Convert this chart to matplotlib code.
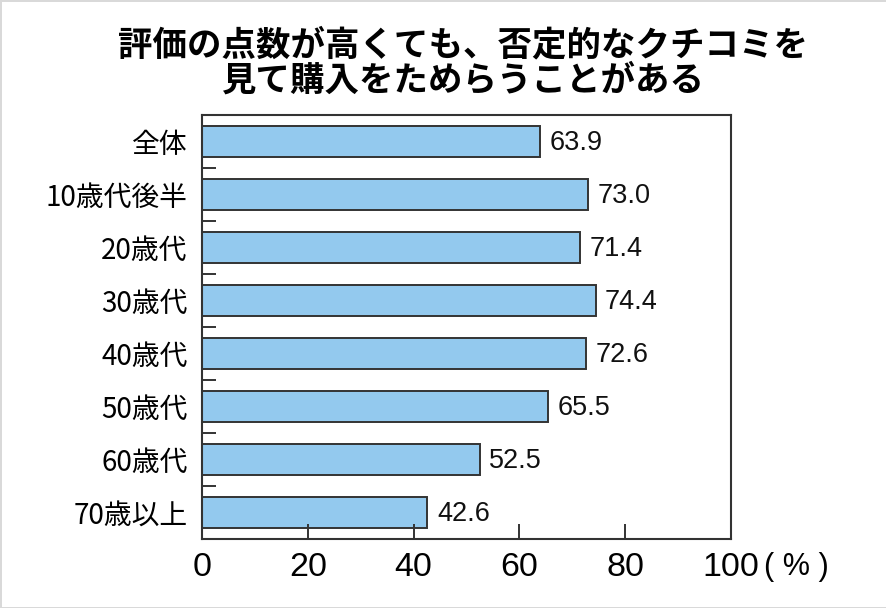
import matplotlib
matplotlib.use("Agg")
import matplotlib.pyplot as plt
import numpy as np

# データ
categories = ["全体", "10歳代後半", "20歳代", "30歳代", "40歳代", "50歳代", "60歳代", "70歳以上"]
values = [63.9, 73.0, 71.4, 74.4, 72.6, 65.5, 52.5, 42.6]
xticks = [0, 20, 40, 60, 80, 100]
title_lines = ["評価の点数が高くても、否定的なクチコミを", "見て購入をためらうことがある"]

jp = ["Noto Sans CJK JP", "DejaVu Sans"]
narrow = ["Liberation Sans Narrow", "Liberation Sans", "DejaVu Sans"]
plt.rcParams["font.family"] = jp

fig = plt.figure(figsize=(8.87, 6.08), dpi=100)
fig.patch.set_edgecolor("#d9d9d9")
fig.patch.set_linewidth(2)
ax = fig.add_axes([202 / 887, 1 - 539 / 608, 529 / 887, 424 / 608])

y = np.arange(len(categories))
ax.barh(y, values, height=0.6, color="#93c9ee", edgecolor="#333333", linewidth=1.4)

for yi, v in zip(y, values):
    ax.text(v + 1.8, yi + 0.02, f"{v:.1f}", va="center", ha="left",
            fontsize=19.5, family=narrow, color="#111111")

ax.set_xlim(0, 100)
ax.set_ylim(len(categories) - 0.5, -0.5)

ax.set_yticks(y)
ax.set_yticklabels(categories, fontsize=20)
ax.set_yticks(np.arange(-0.5, len(categories)), minor=True)
ax.tick_params(axis="y", which="major", length=0, pad=10.5)
ax.tick_params(axis="y", which="minor", direction="in", length=10, width=1.4, color="#333333")

ax.set_xticks(xticks)
ax.set_xticklabels([str(t) for t in xticks], family=narrow, fontsize=24.5)
ax.tick_params(axis="x", direction="in", length=11, width=1.4, color="#333333", pad=9)

for s in ax.spines.values():
    s.set_color("#333333")
    s.set_linewidth(1.5)

ax.text(1.062, -0.066, "( % )", transform=ax.transAxes, ha="left", va="center",
        fontsize=22, family=narrow)

fig.text(463 / 887, 1 - 45 / 608, title_lines[0], ha="center", va="center",
         fontsize=24.8, fontweight="bold")
fig.text(463 / 887, 1 - 80 / 608, title_lines[1], ha="center", va="center",
         fontsize=24.8, fontweight="bold")

fig.savefig("out.png", dpi=100)
